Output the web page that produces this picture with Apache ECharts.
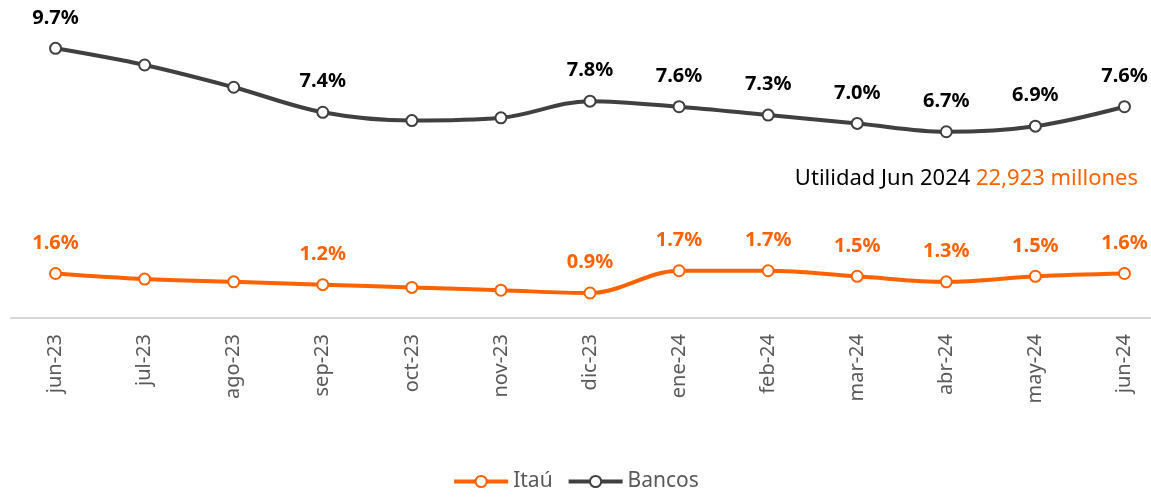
<!DOCTYPE html>
<html>
<head>
<meta charset="utf-8">
<script src="https://cdn.jsdelivr.net/npm/echarts@6/dist/echarts.min.js"></script>
<style>
  html, body { margin: 0; padding: 0; background: #fff; }
  #chart { width: 1151px; height: 499px; }
</style>
</head>
<body>
<div id="chart"></div>
<script>
// data
var months = ["jun-23", "jul-23", "ago-23", "sep-23", "oct-23", "nov-23", "dic-23",
  "ene-24", "feb-24", "mar-24", "abr-24", "may-24", "jun-24"];
var itau = [1.6, 1.4, 1.3, 1.2, 1.1, 1.0, 0.9, 1.7, 1.7, 1.5, 1.3, 1.5, 1.6];
var bancos = [9.7, 9.1, 8.3, 7.4, 7.1, 7.2, 7.8, 7.6, 7.3, 7.0, 6.7, 6.9, 7.6];
// months that carry a value label
var labeled = [0, 3, 6, 7, 8, 9, 10, 11, 12];

var ORANGE = "#FF6200";
var GREY = "#404040";
var FONT = "'Noto Sans', 'Open Sans', sans-serif";

function withLabels(arr) {
  return arr.map(function (v, i) {
    return { value: v, label: { show: labeled.indexOf(i) >= 0 } };
  });
}

function lineSeries(name, data, color) {
  return {
    name: name,
    type: "line",
    smooth: 0.35,
    symbol: "circle",
    symbolSize: 11,
    data: withLabels(data),
    lineStyle: { color: color, width: 4 },
    itemStyle: { color: "#fff", borderColor: color, borderWidth: 2 },
    label: {
      position: "top",
      distance: 14,
      fontFamily: FONT,
      fontSize: 20,
      fontWeight: "bold",
      color: color === ORANGE ? ORANGE : "#000",
      formatter: function (p) { return p.value.toFixed(1) + "%"; }
    },
    z: 3
  };
}

var chart = echarts.init(document.getElementById("chart"));
chart.setOption({
  animation: false,
  textStyle: { fontFamily: FONT },
  grid: {
    left: 11, width: 1158, top: 40, bottom: 181,
    containLabel: false, outerBoundsMode: "none"
  },
  legend: {
    bottom: 2,
    left: "center",
    itemWidth: 54,
    itemHeight: 14,
    itemGap: 14,
    lineStyle: { width: 4 },
    textStyle: { fontSize: 21, color: "#595959", fontFamily: FONT },
    data: ["Itaú", "Bancos"]
  },
  xAxis: {
    type: "category",
    data: months,
    boundaryGap: true,
    axisLine: { lineStyle: { color: "#d9d9d9", width: 2 } },
    axisTick: { show: false },
    axisLabel: {
      rotate: 90,
      margin: 16,
      fontSize: 20,
      color: "#595959",
      fontFamily: FONT,
      interval: 0
    }
  },
  yAxis: {
    type: "value",
    min: 0,
    max: 10,
    show: false,
    splitLine: { show: false }
  },
  graphic: [{
    type: "text",
    right: 13,
    top: 168,
    style: {
      text: "{a|Utilidad Jun 2024 }{b|22,923 millones}",
      rich: {
        a: { fontSize: 22, fontFamily: FONT, fill: "#000" },
        b: { fontSize: 22, fontFamily: FONT, fill: ORANGE }
      }
    }
  }],
  series: [
    lineSeries("Itaú", itau, ORANGE),
    lineSeries("Bancos", bancos, GREY)
  ]
});
</script>
</body>
</html>
